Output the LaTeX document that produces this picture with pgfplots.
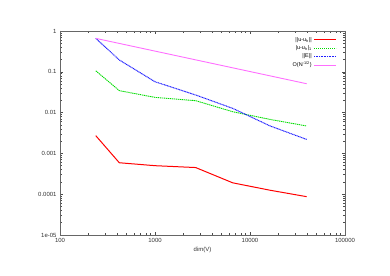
\documentclass[border=0pt]{standalone}
\usepackage{pgfplots}
\pgfplotsset{compat=1.18}
\usepackage{fontspec}
\setmainfont{Liberation Sans}
\definecolor{gpred}{RGB}{255,0,0}
\definecolor{gpgreen}{RGB}{0,220,0}
\definecolor{gpblue}{RGB}{30,30,255}
\definecolor{gpmag}{RGB}{255,110,255}
\begin{document}
\begin{tikzpicture}[x=1bp,y=1bp]
\useasboundingbox (0,0) rectangle (390,276);
\begin{axis}[
  at={(60bp,41bp)}, anchor=south west,
  scale only axis, width=285bp, height=204bp,
  xmode=log, ymode=log,
  xmin=100, xmax=100000, ymin=1e-5, ymax=1,
  xtick={100,1000,10000,100000},
  xticklabels={100,1000,10000,100000},
  ytick={1e-5,1e-4,1e-3,1e-2,1e-1,1},
  yticklabels={1e-05,0.0001,0.001,0.01,0.1,1},
  tick align=inside,
  major tick length=3bp, minor tick length=1.6bp,
  tick style={black!70, line width=0.5pt},
  axis line style={black!60, line width=0.8pt},
  ticklabel style={font=\fontsize{6}{7}\selectfont, text=black!80},
  xlabel={dim(V)},
  xlabel style={font=\fontsize{6}{7}\selectfont, text=black!80, yshift=2bp},
  legend plot pos=right,
  legend cell align=right,
  legend image code/.code={\draw[#1] (0bp,0bp) -- (22bp,0bp);},
  legend style={draw=none, fill=none, at={(0.975,0.985)}, anchor=north east,
    font=\fontsize{5.5}{6}\selectfont, row sep=-1.2bp, inner sep=1bp,
    /tikz/every even column/.append style={column sep=6bp}},
]
\addplot[gpred, line width=1pt] coordinates {
  (238,0.00272) (421,0.00059) (1000,0.0005) (2680,0.00045) (6580,0.00019) (16300,0.000125) (39500,0.000087)};
\addlegendentry{\textbar\textbar u-u\textsubscript{h}\textbar\textbar}
\addplot[gpgreen, line width=0.9pt, dash pattern=on 1.3bp off 0.7bp] coordinates {
  (238,0.106) (421,0.0345) (1000,0.0236) (2680,0.0196) (6580,0.0105) (16300,0.0068) (39500,0.0047)};
\addlegendentry{\textbar u-u\textsubscript{h}\textbar\textsubscript{1}}
\addplot[gpblue, line width=1pt, dash pattern=on 1bp off 0.6bp] coordinates {
  (238,0.66) (421,0.195) (1000,0.057) (2680,0.027) (6580,0.0127) (16300,0.0047) (39500,0.0022)};
\addlegendentry{\textbar\textbar E\textbar\textbar}
\addplot[gpmag, line width=0.9pt] coordinates {
  (238,0.66) (39500,0.051)};
\addlegendentry{O(N\textsuperscript{-1/2})}
\end{axis}
\end{tikzpicture}
\end{document}
